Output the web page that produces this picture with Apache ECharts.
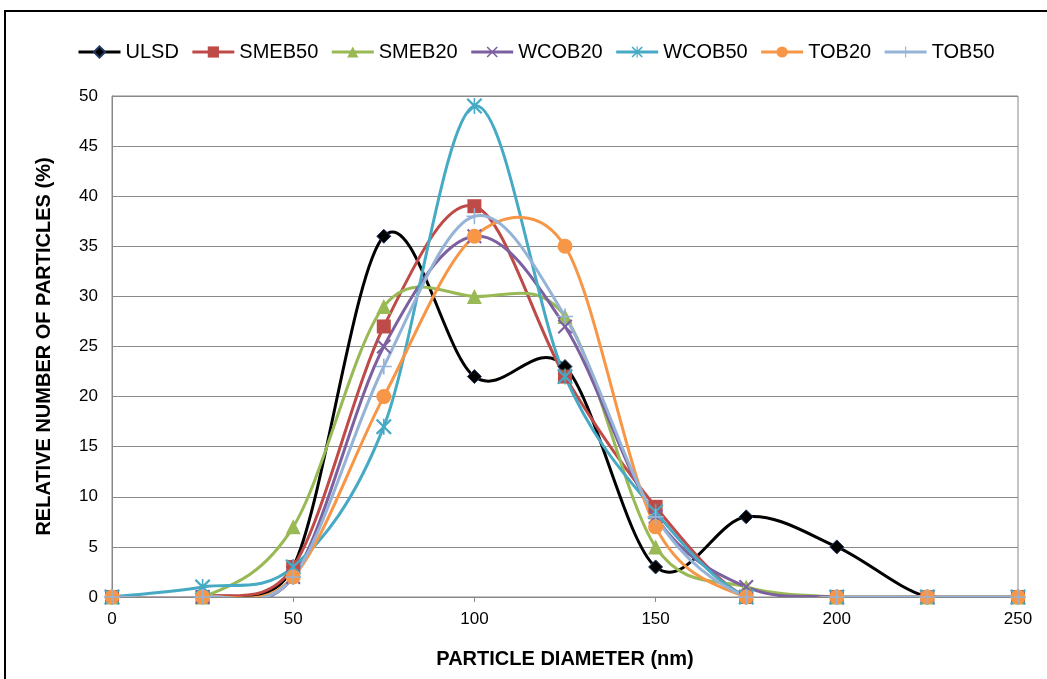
<!DOCTYPE html>
<html>
<head>
<meta charset="utf-8">
<script src="https://cdn.jsdelivr.net/npm/echarts@6/dist/echarts.min.js"></script>
<style>
  html, body { margin: 0; padding: 0; background: #fff; }
  #chart { width: 1047px; height: 679px; }
</style>
</head>
<body>
<div id="chart"></div>
<script>
// Particle diameter (nm) sampled every 25 nm
const diameters = [0, 25, 50, 75, 100, 125, 150, 175, 200, 225, 250];

// Relative number of particles (%) per fuel
const ULSD   = [0, 0, 3, 36, 22, 23, 3, 8, 5, 0, 0];
const SMEB50 = [0, 0, 3, 27, 39, 22, 9, 0, 0, 0, 0];
const SMEB20 = [0, 0, 7, 29, 30, 28, 5, 1, 0, 0, 0];
const WCOB20 = [0, 0, 2, 25, 36, 27, 8, 1, 0, 0, 0];
const WCOB50 = [0, 1, 3, 17, 49, 22, 8.5, 0, 0, 0, 0];
const TOB20  = [0, 0, 2, 20, 36, 35, 7, 0, 0, 0, 0];
const TOB50  = [0, 0, 2, 23, 38, 28, 8, 0, 0, 0, 0];

const yTicks = [0, 5, 10, 15, 20, 25, 30, 35, 40, 45, 50];
const xTicks = [0, 50, 100, 150, 200, 250];

// Marker glyphs
const SYM_X    = 'path://M1,0L5,4L9,0L10,1L6,5L10,9L9,10L5,6L1,10L0,9L4,5L0,1Z';
const SYM_STAR = 'path://M1,0L4.5,3.5V0H5.5V3.5L9,0L10,1L6,5L10,9L9,10L5.5,6.5V10H4.5V6.5L1,10L0,9L4,5L0,1Z';
const SYM_PLUS = 'path://M4.5,0H5.5V4.5H10V5.5H5.5V10H4.5V5.5H0V4.5H4.5Z';

const seriesDefs = [
  { name: 'ULSD',   data: ULSD,   color: '#000000', symbol: 'diamond',  size: 14, border: '#1F3864' },
  { name: 'SMEB50', data: SMEB50, color: '#BE4B48', symbol: 'rect',     size: 14 },
  { name: 'SMEB20', data: SMEB20, color: '#98B954', symbol: 'triangle', size: 15 },
  { name: 'WCOB20', data: WCOB20, color: '#7D60A0', symbol: SYM_X,      size: 15 },
  { name: 'WCOB50', data: WCOB50, color: '#46AAC5', symbol: SYM_STAR,   size: 16 },
  { name: 'TOB20',  data: TOB20,  color: '#F79646', symbol: 'circle',   size: 15 },
  { name: 'TOB50',  data: TOB50,  color: '#95B3D7', symbol: SYM_PLUS,   size: 16 }
];

const font = '"Liberation Sans Narrow", "Liberation Sans", Arial, sans-serif';

// Smoothed curve through pixel points: cubic Bezier segments whose
// tangents are (next - prev) / 6, capped at half the segment length.
function smoothPath(pts) {
  const n = pts.length;
  const hyp = (v) => Math.hypot(v[0], v[1]);
  let d = 'M' + pts[0][0] + ',' + pts[0][1];
  for (let i = 0; i < n - 1; i++) {
    const p0 = pts[i - 1] || pts[i];
    const p1 = pts[i];
    const p2 = pts[i + 1];
    const p3 = pts[i + 2] || pts[i + 1];
    const seg = hyp([p2[0] - p1[0], p2[1] - p1[1]]);
    let t1 = [(p2[0] - p0[0]) / 6, (p2[1] - p0[1]) / 6];
    let t2 = [(p3[0] - p1[0]) / 6, (p3[1] - p1[1]) / 6];
    const l1 = hyp(t1), l2 = hyp(t2);
    if (l1 > seg / 2) { t1 = [t1[0] * seg / 2 / l1, t1[1] * seg / 2 / l1]; }
    if (l2 > seg / 2) { t2 = [t2[0] * seg / 2 / l2, t2[1] * seg / 2 / l2]; }
    const c1 = [p1[0] + t1[0], p1[1] + t1[1]];
    const c2 = [p2[0] - t2[0], p2[1] - t2[1]];
    d += 'C' + c1[0] + ',' + c1[1] + ',' + c2[0] + ',' + c2[1] + ',' + p2[0] + ',' + p2[1];
  }
  return d;
}

const series = [];
seriesDefs.forEach(s => {
  const pairs = diameters.map((x, i) => [x, s.data[i]]);
  // curve
  series.push({
    name: s.name + ' curve',
    type: 'custom',
    clip: true,
    silent: true,
    data: pairs,
    renderItem: (params, api) => {
      if (params.dataIndex !== 0) return null;
      const pts = pairs.map(p => api.coord(p));
      return {
        type: 'path',
        shape: { pathData: smoothPath(pts) },
        style: { stroke: s.color, lineWidth: 3, fill: 'none' }
      };
    }
  });
  // markers
  series.push({
    name: s.name,
    type: 'line',
    symbol: s.symbol,
    symbolSize: s.size,
    showAllSymbol: true,
    lineStyle: { opacity: 0 },
    itemStyle: s.border
      ? { color: s.color, borderColor: s.border, borderWidth: 1 }
      : { color: s.color },
    data: pairs
  });
});

const chart = echarts.init(document.getElementById('chart'));
chart.setOption({
  animation: false,
  backgroundColor: '#ffffff',
  graphic: [{
    type: 'rect',
    shape: { x: 5, y: 11, width: 1100, height: 700 },
    style: { fill: 'none', stroke: '#000', lineWidth: 2 },
    silent: true, z: -1
  }],
  legend: {
    top: 37,
    left: 72,
    itemWidth: 42,
    itemHeight: 14,
    itemGap: 12,
    textStyle: { fontFamily: font, fontSize: 20, color: '#000' },
    data: seriesDefs.map(s => ({
      name: s.name,
      itemStyle: { color: s.color },
      lineStyle: { color: s.color, width: 3, opacity: 1 }
    }))
  },
  grid: {
    left: 112, right: 29, top: 96, bottom: 82,
    show: true, borderColor: '#888', borderWidth: 1
  },
  xAxis: {
    type: 'value',
    min: 0, max: 250, interval: 50,
    name: 'PARTICLE DIAMETER (nm)',
    nameLocation: 'middle',
    nameGap: 52,
    nameTextStyle: { fontFamily: font, fontSize: 20, fontWeight: 'bold', color: '#000' },
    axisLine: { show: true, lineStyle: { color: '#888', width: 1 } },
    axisTick: { show: true, length: 5, lineStyle: { color: '#888' } },
    splitLine: { show: false },
    axisLabel: {
      fontFamily: font, fontSize: 17, color: '#000', margin: 14,
      formatter: v => xTicks.includes(v) ? String(v) : ''
    }
  },
  yAxis: {
    type: 'value',
    min: 0, max: 50, interval: 5,
    name: 'RELATIVE NUMBER OF PARTICLES (%)',
    nameLocation: 'middle',
    nameGap: 58,
    nameTextStyle: { fontFamily: font, fontSize: 20, fontWeight: 'bold', color: '#000' },
    axisLine: { show: true, lineStyle: { color: '#888', width: 1 } },
    axisTick: { show: false },
    splitLine: { show: true, lineStyle: { color: '#8a8a8a', width: 1 } },
    axisLabel: {
      fontFamily: font, fontSize: 17, color: '#000', margin: 14,
      formatter: v => yTicks.includes(v) ? String(v) : ''
    }
  },
  series: series
});
</script>
</body>
</html>
